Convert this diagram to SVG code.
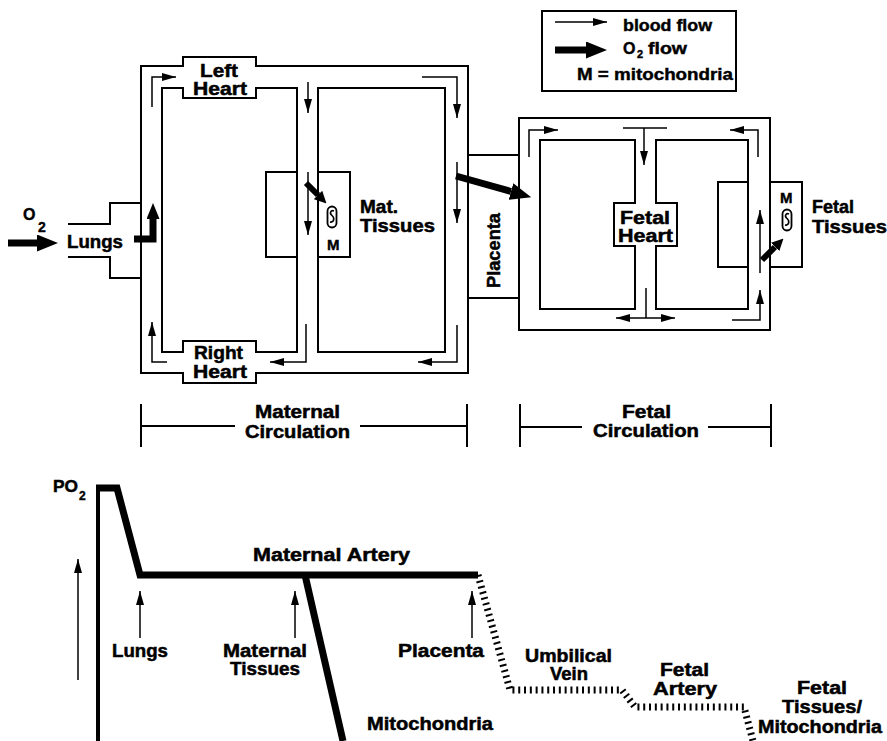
<svg xmlns="http://www.w3.org/2000/svg" xmlns:xlink="http://www.w3.org/1999/xlink" width="887" height="741" viewBox="0 0 887 741">
<style>
.ln{fill:none;stroke:#000;stroke-width:2}
.ar{fill:none;stroke:#000;stroke-width:1.5}
.thk{fill:none;stroke:#000;stroke-width:7}
.thm{fill:none;stroke:#000;stroke-width:6}
.t{font-family:"Liberation Sans",Arial,sans-serif;font-weight:bold;font-size:18px;fill:#000;stroke:#000;stroke-width:0.5}
.tg{font-family:"Liberation Sans",Arial,sans-serif;font-weight:bold;font-size:18px;fill:#000;stroke:#000;stroke-width:0.5}
.tl{font-family:"Liberation Sans",Arial,sans-serif;font-weight:bold;font-size:16px;fill:#000;stroke:#000;stroke-width:0.4}
.crv{fill:none;stroke:#000;stroke-width:7;stroke-linejoin:miter}
.dot{fill:none;stroke:#000;stroke-width:7;stroke-dasharray:2 3.8}
</style>
<defs>
<marker id="ah" markerUnits="userSpaceOnUse" markerWidth="14" markerHeight="8" refX="14" refY="4" orient="auto" viewBox="0 0 14 8"><path d="M0,0 L14,4 L0,8 z" fill="#000"/></marker>
<marker id="ahs" markerUnits="userSpaceOnUse" markerWidth="14" markerHeight="8" refX="14" refY="4" orient="auto-start-reverse" viewBox="0 0 14 8"><path d="M0,0 L14,4 L0,8 z" fill="#000"/></marker>
<marker id="tb" markerUnits="userSpaceOnUse" markerWidth="21" markerHeight="17" refX="0" refY="8.5" orient="auto" viewBox="0 0 21 17"><path d="M0,0 L21,8.5 L0,17 z" fill="#000"/></marker>
<marker id="tm" markerUnits="userSpaceOnUse" markerWidth="16" markerHeight="13" refX="0" refY="6.5" orient="auto" viewBox="0 0 16 13"><path d="M0,0 L16,6.5 L0,13 z" fill="#000"/></marker>
<marker id="ts" markerUnits="userSpaceOnUse" markerWidth="12" markerHeight="12" refX="0" refY="6" orient="auto" viewBox="0 0 12 12"><path d="M0,0 L12,6 L0,12 z" fill="#000"/></marker>
<g id="mito">
<rect x="-4.5" y="-10.5" width="9" height="21" rx="4.5" fill="#fff" stroke="#000" stroke-width="1.8"/>
<path d="M2,-6 C-1,-7.5 -3,-4 0,-1.5 C3,1 2,6 -2,5" fill="none" stroke="#000" stroke-width="1.6"/>
</g>
</defs>
<rect width="887" height="741" fill="#fff"/>

<g id="maternal-circulation">
<path class="ln" d="M141,66 H183 V57 H256 V66 H468 V373 H256 V383 H183 V373 H141 Z"/>
</g>
<g id="left-heart">
<path class="ln" d="M162,88 H183 V98 H256 V88 H297 V352 H256 V341 H183 V352 H162 Z"/>
<text class="t" x="200" y="77" textLength="38" lengthAdjust="spacingAndGlyphs">Left</text>
<text class="t" x="193" y="95" textLength="54" lengthAdjust="spacingAndGlyphs">Heart</text>
</g>
<g id="right-heart">
<text class="t" x="194" y="359" textLength="49" lengthAdjust="spacingAndGlyphs">Right</text>
<text class="t" x="193" y="378" textLength="54" lengthAdjust="spacingAndGlyphs">Heart</text>
</g>
<g id="lungs">
<path class="ln" d="M68,224 H110 V203 H141 M68,257 H110 V278 H141"/>
<text class="t" x="67" y="248" textLength="56" lengthAdjust="spacingAndGlyphs">Lungs</text>
<text class="tl" x="23" y="220">O</text>
<text class="tl" x="38" y="232" style="font-size:14px">2</text>
</g>
<g id="mat-tissues">
<rect class="ln" x="318" y="88" width="127" height="264"/>
<rect class="ln" x="266" y="172" width="31" height="85"/>
<rect class="ln" x="318" y="172" width="32" height="85"/>
<use xlink:href="#mito" href="#mito" x="332" y="217"/>
<text class="tl" x="327" y="250" style="font-size:15px">M</text>
<text class="t" x="360" y="213" textLength="38" lengthAdjust="spacingAndGlyphs">Mat.</text>
<text class="t" x="360" y="232" textLength="75" lengthAdjust="spacingAndGlyphs">Tissues</text>
</g>
<g id="placenta">
<path class="ln" d="M468,155 H519 M468,298 H519"/>
<text class="t" transform="translate(500,288) rotate(-90)" x="0" y="0" textLength="75" lengthAdjust="spacingAndGlyphs">Placenta</text>
</g>
<g id="fetal-circulation">
<rect class="ln" x="519" y="118" width="251" height="212"/>
<path class="ln" d="M540,140 H635 V203 H614 V246 H635 V309 H540 Z"/>
<path class="ln" d="M656,140 H748 V309 H656 V246 H677 V203 H656 Z"/>
</g>
<g id="fetal-heart">
<text class="tg" x="620" y="224" textLength="50" lengthAdjust="spacingAndGlyphs">Fetal</text>
<text class="tg" x="618" y="242" textLength="55" lengthAdjust="spacingAndGlyphs">Heart</text>
</g>
<g id="fetal-tissues">
<rect class="ln" x="718" y="182" width="30" height="85"/>
<path class="ln" d="M770,182 H802 V267 H770"/>
<text class="tl" x="780" y="203" style="font-size:15px">M</text>
<use xlink:href="#mito" href="#mito" x="787" y="220"/>
<text class="t" x="812" y="213" textLength="42" lengthAdjust="spacingAndGlyphs">Fetal</text>
<text class="t" x="812" y="233" textLength="75" lengthAdjust="spacingAndGlyphs">Tissues</text>
</g>
<g id="legend">
<rect class="ln" x="542" y="11" width="194" height="80"/>
<path class="ar" d="M555,22 H607" marker-end="url(#ah)"/>
<path class="thk" d="M555,50 H586" marker-end="url(#tb)"/>
<text class="tl" x="623" y="31" textLength="89" lengthAdjust="spacingAndGlyphs">blood flow</text>
<text class="tl" x="623" y="54">O</text>
<text class="tl" x="637" y="58" style="font-size:11px">2</text>
<text class="tl" x="648" y="54" textLength="39" lengthAdjust="spacingAndGlyphs">flow</text>
<text class="tl" x="577" y="80" textLength="156" lengthAdjust="spacingAndGlyphs">M = mitochondria</text>
</g>
<g id="brackets">
<path class="ln" d="M141,404 V447 M467,404 V447 M141,426 H235 M360,426 H467"/>
<text class="tg" x="255" y="418" textLength="85" lengthAdjust="spacingAndGlyphs">Maternal</text>
<text class="tg" x="245" y="438" textLength="105" lengthAdjust="spacingAndGlyphs">Circulation</text>
<path class="ln" d="M520,404 V447 M771,404 V447 M520,427 H582 M708,427 H771"/>
<text class="tg" x="622" y="418" textLength="49" lengthAdjust="spacingAndGlyphs">Fetal</text>
<text class="tg" x="593" y="437" textLength="106" lengthAdjust="spacingAndGlyphs">Circulation</text>
</g>

<g id="connectors">
<path class="ar" d="M152,107 V77 H176" marker-end="url(#ah)"/>
<path class="ar" d="M167,362 H152 V322" marker-end="url(#ah)"/>
<path class="ar" d="M306,324 V362 H270" marker-end="url(#ah)"/>
<path class="ar" d="M308,82 V113" marker-end="url(#ah)"/>
<path class="ar" d="M308,172 V235" marker-end="url(#ah)"/>
<path class="ar" d="M422,77 H457 V118" marker-end="url(#ah)"/>
<path class="ar" d="M457,162 V223" marker-end="url(#ah)"/>
<path class="ar" d="M457,325 V362 H418" marker-end="url(#ah)"/>
<path class="ar" d="M529,157 V130 H558" marker-end="url(#ah)"/>
<path class="ar" d="M623,128 H667"/>
<path class="ar" d="M644,128 V165" marker-end="url(#ah)"/>
<path class="ar" d="M758,157 V130 H730" marker-end="url(#ah)"/>
<path class="ar" d="M760,273 V210" marker-end="url(#ah)"/>
<path class="ar" d="M732,320 H760 V290" marker-end="url(#ah)"/>
<path class="ar" d="M646,288 V318"/>
<path class="ar" d="M616,318 H675" marker-start="url(#ahs)" marker-end="url(#ahs)"/>
<path class="thk" d="M8,243 H37" marker-end="url(#tb)"/>
<path class="thk" d="M134,239 H153 V219" stroke-linejoin="miter" marker-end="url(#tm)"/>
<path class="thm" d="M306,183 L318,195" marker-end="url(#ts)"/>
<path class="thk" d="M456,176 L511,191.5" marker-end="url(#tb)"/>
<path class="thm" d="M762,260 L775,247" marker-end="url(#ts)"/>
</g>

<g id="po2-graph">
<path fill="none" stroke="#000" stroke-width="4" d="M98,741 V486"/>
<path class="crv" d="M96,488 H117 L140,575 H478"/>
<path class="crv" d="M305,575 L343,741"/>
<path class="dot" d="M478,575 L510,690 H622 L635,707 H744 L753,741"/>
<path class="ar" d="M78,680 V559" marker-end="url(#ah)"/>
<path class="ar" d="M140,638 V591" marker-end="url(#ah)"/>
<path class="ar" d="M295,638 V591" marker-end="url(#ah)"/>
<path class="ar" d="M472,638 V591" marker-end="url(#ah)"/>
<text class="tg" x="53" y="492" style="font-size:17px" textLength="25" lengthAdjust="spacingAndGlyphs">PO</text>
<text class="tl" x="79" y="500" style="font-size:12px">2</text>
<text class="tg" x="253" y="561" textLength="157" lengthAdjust="spacingAndGlyphs">Maternal Artery</text>
<text class="tg" x="112" y="657" textLength="56" lengthAdjust="spacingAndGlyphs">Lungs</text>
<text class="tg" x="223" y="657" textLength="84" lengthAdjust="spacingAndGlyphs">Maternal</text>
<text class="tg" x="230" y="675" textLength="70" lengthAdjust="spacingAndGlyphs">Tissues</text>
<text class="tg" x="398" y="657" textLength="86" lengthAdjust="spacingAndGlyphs">Placenta</text>
<text class="tg" x="367" y="730" textLength="126" lengthAdjust="spacingAndGlyphs">Mitochondria</text>
<text class="tg" x="525" y="662" textLength="87" lengthAdjust="spacingAndGlyphs">Umbilical</text>
<text class="tg" x="550" y="680" textLength="38" lengthAdjust="spacingAndGlyphs">Vein</text>
<text class="tg" x="660" y="676" textLength="49" lengthAdjust="spacingAndGlyphs">Fetal</text>
<text class="tg" x="653" y="695" textLength="64" lengthAdjust="spacingAndGlyphs">Artery</text>
<text class="tg" x="797" y="694" textLength="50" lengthAdjust="spacingAndGlyphs">Fetal</text>
<text class="tg" x="782" y="713" textLength="80" lengthAdjust="spacingAndGlyphs">Tissues/</text>
<text class="tg" x="758" y="733" textLength="124" lengthAdjust="spacingAndGlyphs">Mitochondria</text>
</g>
</svg>
